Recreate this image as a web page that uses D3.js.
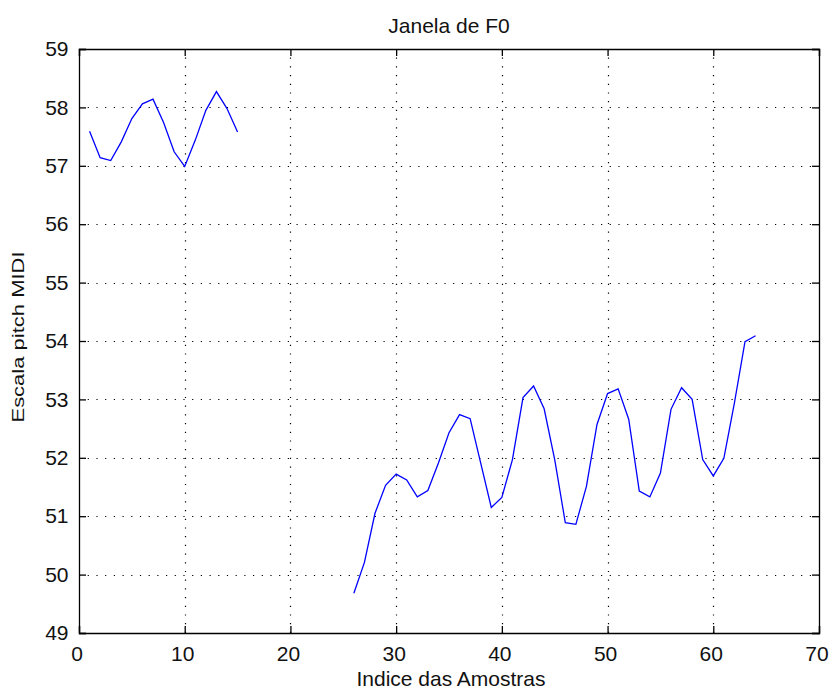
<!DOCTYPE html>
<html>
<head>
<meta charset="utf-8">
<script src="https://cdn.jsdelivr.net/npm/d3@7"></script>
<style>
  html, body { margin: 0; padding: 0; background: #fff; }
  svg { display: block; }
  text { font-family: "Liberation Sans", Arial, sans-serif; fill: #111; }
</style>
</head>
<body>
<svg id="chart" width="833" height="693"></svg>
<script>
// F0 contour, first voiced segment (samples 1..15)
const seg1X = [1, 2, 3, 4, 5, 6, 7, 8, 9, 10, 11, 12, 13, 14, 15];
const seg1Y = [57.59, 57.14, 57.09, 57.41, 57.81, 58.06, 58.14, 57.74, 57.24, 56.99, 57.44, 57.95, 58.27, 57.98, 57.58];

// F0 contour, second voiced segment (samples 26..64)
const seg2X = [26, 27, 28, 29, 30, 31, 32, 33, 34, 35, 36, 37, 38, 39, 40, 41, 42, 43, 44, 45,
               46, 47, 48, 49, 50, 51, 52, 53, 54, 55, 56, 57, 58, 59, 60, 61, 62, 63, 64];
const seg2Y = [49.68, 50.21, 51.05, 51.53, 51.72, 51.62, 51.33, 51.44, 51.91, 52.43, 52.74, 52.67, 51.91, 51.15, 51.32, 51.97, 53.03, 53.23, 52.84, 51.97,
               50.89, 50.86, 51.51, 52.57, 53.10, 53.18, 52.66, 51.43, 51.33, 51.74, 52.83, 53.20, 53.00, 51.97, 51.69, 51.99, 52.94, 53.99, 54.09];

const xTicks = [0, 10, 20, 30, 40, 50, 60, 70];
const yTicks = [49, 50, 51, 52, 53, 54, 55, 56, 57, 58, 59];

const titleText = "Janela de F0";
const xLabelText = "Indice das Amostras";
const yLabelText = "Escala pitch MIDI";

const svg = d3.select("#chart");
const plotL = 79, plotT = 49, plotR = 819, plotB = 633;

const x = d3.scaleLinear().domain([0, 70]).range([plotL, plotR]);
const y = d3.scaleLinear().domain([49, 59]).range([plotB, plotT]);

// dotted grid
const grid = svg.append("g").attr("stroke", "#000").attr("stroke-width", 1.2)
  .attr("stroke-dasharray", "1.2,7.5");
grid.selectAll("line.gx").data(xTicks.slice(1, -1)).join("line")
  .attr("x1", d => Math.round(x(d)) + 0.5).attr("x2", d => Math.round(x(d)) + 0.5)
  .attr("y1", plotB).attr("y2", plotT);
grid.selectAll("line.gy").data(yTicks.slice(1, -1)).join("line")
  .attr("y1", d => Math.round(y(d)) + 0.5).attr("y2", d => Math.round(y(d)) + 0.5)
  .attr("x1", plotL).attr("x2", plotR);

// data lines
const line = d3.line().x(d => x(d[0])).y(d => y(d[1]));
const segs = [d3.zip(seg1X, seg1Y), d3.zip(seg2X, seg2Y)];
svg.append("g").selectAll("path").data(segs).join("path")
  .attr("d", line).attr("fill", "none").attr("stroke", "#0000ff").attr("stroke-width", 1.3);

// axes with inward ticks on all four sides
const tickLen = 7;
const fmt = d3.format("d");
const bottomAxis = d3.axisBottom(x).tickValues(xTicks).tickSize(-tickLen).tickPadding(13).tickFormat(fmt);
const topAxis = d3.axisTop(x).tickValues(xTicks).tickSize(-tickLen).tickFormat("");
const leftAxis = d3.axisLeft(y).tickValues(yTicks).tickSize(-tickLen).tickPadding(10.5).tickFormat(fmt);
const rightAxis = d3.axisRight(y).tickValues(yTicks).tickSize(-tickLen).tickFormat("");

function style(g) {
  g.select(".domain").attr("stroke", "#000").attr("stroke-width", 1.3);
  g.selectAll(".tick line").attr("stroke", "#000").attr("stroke-width", 1.3);
  g.selectAll(".tick text").attr("font-size", 21).attr("fill", "#111")
    .attr("font-family", "'Liberation Sans', Arial, sans-serif");
}
const gB = svg.append("g").attr("transform", `translate(0,${plotB})`).call(bottomAxis).call(style);
gB.selectAll(".tick text").attr("dx", -2.5);
svg.append("g").attr("transform", `translate(0,${plotT})`).call(topAxis).call(style);
svg.append("g").attr("transform", `translate(${plotL},0)`).call(leftAxis).call(style);
svg.append("g").attr("transform", `translate(${plotR},0)`).call(rightAxis).call(style);

// labels
svg.append("text").attr("x", (plotL + plotR) / 2).attr("y", 33).attr("text-anchor", "middle")
  .attr("font-size", 21).text(titleText);
svg.append("text").attr("x", (plotL + plotR) / 2 + 2).attr("y", 686).attr("text-anchor", "middle")
  .attr("font-size", 21).text(xLabelText);
svg.append("text").attr("transform", `translate(23.5,337) rotate(-90) scale(1,0.75)`)
  .attr("text-anchor", "middle").attr("font-size", 22).text(yLabelText);
</script>
</body>
</html>
